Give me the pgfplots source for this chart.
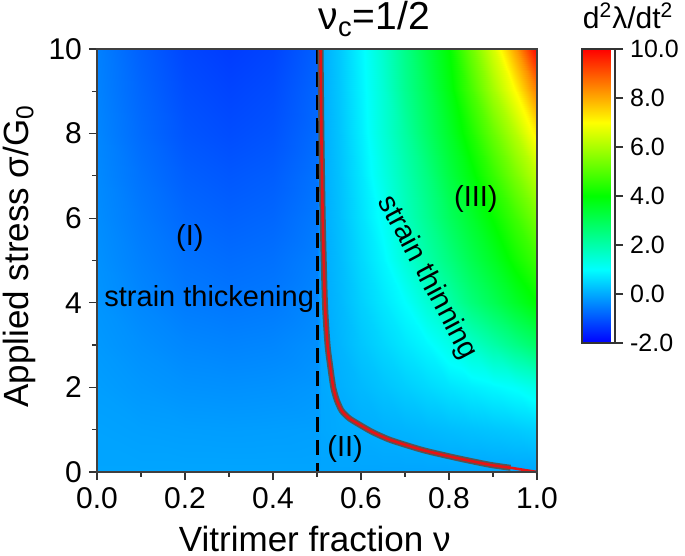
\documentclass[border=0pt]{standalone}
\usepackage{fontspec}
\setmainfont{Liberation Sans}
\usepackage{pgfplots}
\usepackage{pgfplotstable}
\pgfplotsset{compat=1.18}
\pgfplotsset{/pgf/number format/assume math mode=true}

\pgfplotstableread{
x y v
0 0 -0.06
0.1 0 -0.06
0.2 0 -0.06
0.3 0 -0.06
0.4 0 -0.06
0.5 0 -0.06
0.51 0 -0.06
0.55 0 -0.06
0.6 0 -0.06
0.65 0 -0.06
0.7 0 -0.06
0.75 0 -0.06
0.8 0 -0.06
0.85 0 -0.06
0.9 0 -0.06
0.95 0 -0.05
1.0 0 -0.04
0 1 -0.09
0.1 1 -0.12
0.2 1 -0.14
0.3 1 -0.15
0.4 1 -0.14
0.5 1 -0.12
0.51 1 -0.04
0.55 1 0.00
0.6 1 0.04
0.65 1 0.08
0.7 1 0.12
0.75 1 0.17
0.8 1 0.22
0.85 1 0.27
0.9 1 0.32
0.95 1 0.37
1.0 1 0.45
0 2 -0.14
0.1 2 -0.22
0.2 2 -0.28
0.3 2 -0.30
0.4 2 -0.28
0.5 2 -0.22
0.51 2 -0.03
0.55 2 0.06
0.6 2 0.18
0.65 2 0.30
0.7 2 0.42
0.75 2 0.55
0.8 2 0.68
0.85 2 0.80
0.9 2 0.92
0.95 2 1.05
1.0 2 1.30
0 3 -0.20
0.1 3 -0.31
0.2 3 -0.41
0.3 3 -0.45
0.4 3 -0.42
0.5 3 -0.31
0.51 3 -0.02
0.55 3 0.12
0.6 3 0.33
0.65 3 0.52
0.7 3 0.72
0.75 3 0.92
0.8 3 1.25
0.85 3 1.60
0.9 3 2.00
0.95 3 2.40
1.0 3 2.80
0 4 -0.25
0.1 4 -0.41
0.2 4 -0.55
0.3 4 -0.60
0.4 4 -0.56
0.5 4 -0.41
0.51 4 -0.01
0.55 4 0.16
0.6 4 0.45
0.65 4 0.72
0.7 4 1.00
0.75 4 1.50
0.8 4 2.00
0.85 4 2.55
0.9 4 3.00
0.95 4 3.50
1.0 4 4.00
0 5 -0.29
0.1 5 -0.49
0.2 5 -0.65
0.3 5 -0.72
0.4 5 -0.67
0.5 5 -0.49
0.51 5 0.00
0.55 5 0.20
0.6 5 0.55
0.65 5 0.90
0.7 5 1.45
0.75 5 2.00
0.8 5 2.50
0.85 5 3.05
0.9 5 3.55
0.95 5 4.15
1.0 5 4.70
0 6 -0.34
0.1 6 -0.57
0.2 6 -0.77
0.3 6 -0.85
0.4 6 -0.79
0.5 6 -0.57
0.51 6 0.00
0.55 6 0.24
0.6 6 0.65
0.65 6 1.10
0.7 6 1.75
0.75 6 2.30
0.8 6 2.90
0.85 6 3.45
0.9 6 4.05
0.95 6 4.70
1.0 6 5.40
0 7 -0.38
0.1 7 -0.65
0.2 7 -0.88
0.3 7 -0.97
0.4 7 -0.90
0.5 7 -0.65
0.51 7 0.01
0.55 7 0.27
0.6 7 0.72
0.65 7 1.30
0.7 7 1.90
0.75 7 2.50
0.8 7 3.20
0.85 7 3.85
0.9 7 4.60
0.95 7 5.40
1.0 7 6.20
0 8 -0.42
0.1 8 -0.74
0.2 8 -1.00
0.3 8 -1.10
0.4 8 -1.02
0.5 8 -0.74
0.51 8 0.01
0.55 8 0.30
0.6 8 0.80
0.65 8 1.45
0.7 8 2.10
0.75 8 2.80
0.8 8 3.50
0.85 8 4.30
0.9 8 5.20
0.95 8 6.10
1.0 8 7.20
0 9 -0.46
0.1 9 -0.80
0.2 9 -1.09
0.3 9 -1.20
0.4 9 -1.11
0.5 9 -0.80
0.51 9 0.02
0.55 9 0.33
0.6 9 0.85
0.65 9 1.50
0.7 9 2.30
0.75 9 3.00
0.8 9 3.80
0.85 9 4.80
0.9 9 5.90
0.95 9 7.00
1.0 9 8.50
0 10 -0.49
0.1 10 -0.87
0.2 10 -1.18
0.3 10 -1.30
0.4 10 -1.20
0.5 10 -0.87
0.51 10 0.02
0.55 10 0.35
0.6 10 0.90
0.65 10 1.60
0.7 10 2.40
0.75 10 3.20
0.8 10 4.00
0.85 10 5.25
0.9 10 6.50
0.95 10 8.10
1.0 10 10.0
}\heat

\pgfplotstableread{
x y
0.508 10
0.510 8
0.513 6
0.518 4
0.524 3
0.530 2.5
0.537 2
0.545 1.7
0.556 1.45
0.572 1.28
0.59 1.16
0.625 0.95
0.666 0.76
0.74 0.52
0.818 0.33
0.893 0.17
0.94 0.1
}\curvebg

\pgfplotstableread{
x y
0.508 10
0.510 8
0.513 6
0.518 4
0.524 3
0.530 2.5
0.537 2
0.545 1.7
0.556 1.45
0.572 1.28
0.59 1.16
0.625 0.95
0.666 0.76
0.74 0.52
0.818 0.33
0.893 0.17
0.94 0.1
0.97 0.05
1.0 0
}\curve

\begin{document}
\begin{tikzpicture}
\useasboundingbox (-48.5pt,-42pt) rectangle (294pt,236pt);
\begin{axis}[
  at={(0pt,0pt)}, anchor=south west,
  scale only axis, width=220pt, height=211.5pt,
  xmin=0, xmax=1, ymin=0, ymax=10,
  axis on top, clip=false,
  xtick={0,0.2,0.4,0.6,0.8,1.0}, minor xtick={0.1,0.3,0.5,0.7,0.9},
  ytick={0,2,4,6,8,10}, minor ytick={1,3,5,7,9},
  tick align=outside, tick pos=left,
  major tick length=4pt, minor tick length=2.3pt,
  every tick/.style={black!80, line width=0.6pt},
  axis line style={black!75, line width=0.8pt},
  xticklabel style={font=\fontsize{15}{18}\selectfont, /pgf/number format/.cd, fixed, fixed zerofill, precision=1},
  yticklabel style={font=\fontsize{15}{18}\selectfont},
  xlabel={Vitrimer fraction ν},
  ylabel={Applied stress σ/G\textsubscript{0}},
  label style={font=\fontsize{17.5}{20}\selectfont},
  xlabel style={at={(axis description cs:0.495,-0.187)}, anchor=base},
  ylabel style={at={(axis description cs:-0.177,0.51)}, anchor=center},
  colormap={rb}{rgb255=(0,0,255) rgb255=(0,255,255) rgb255=(0,255,0) rgb255=(255,255,0) rgb255=(255,0,0)},
  point meta min=-2, point meta max=10,
  colorbar,
  colorbar style={
    at={(parent axis.north east)}, anchor=north west, xshift=14pt,
    scale only axis, width=16.5pt, height=147pt,
    ytick={-2,0,2,4,6,8,10},
    yticklabel style={font=\fontsize{12.5}{15}\selectfont, /pgf/number format/.cd, fixed, fixed zerofill, precision=1},
    tick align=outside, major tick length=4pt,
    ytick pos=right, yticklabel pos=right,
    every tick/.style={black!80, line width=0.6pt},
    axis line style={black!80, line width=0.6pt},
  },
]
\addplot[surf, shader=interp, mesh/cols=17, point meta=explicit] table[x=x, y=y, meta=v]{\heat};
\addplot[black, line width=1.5pt, dash pattern=on 7.5pt off 4pt] coordinates {(0.5,10) (0.5,0)};
\addplot[color={rgb,255:red,85;green,85;blue,85}, line width=3pt, smooth, tension=0.4] table[x=x,y=y]{\curvebg};
\addplot[color={rgb,255:red,230;green,20;blue,20}, line width=1.3pt, smooth, tension=0.4] table[x=x,y=y]{\curve};
\node[font=\fontsize{14.5}{17}\selectfont] at (axis cs:0.211,5.53) {(I)};
\node[font=\fontsize{14.5}{17}\selectfont] at (axis cs:0.255,4.1) {strain thickening};
\node[font=\fontsize{14.5}{17}\selectfont] at (axis cs:0.564,0.55) {(II)};
\node[font=\fontsize{14.5}{17}\selectfont] at (axis cs:0.861,6.45) {(III)};
\node[font=\fontsize{14.5}{17}\selectfont, rotate=-62] at (axis cs:0.75,4.6) {strain thinning};
\node[font=\fontsize{19.5}{22}\selectfont] at (rel axis cs:0.63,1.071) {ν\textsubscript{c}=1/2};
\node[font=\fontsize{15}{17}\selectfont] at (rel axis cs:1.207,1.078) {d\textsuperscript{2}λ/dt\textsuperscript{2}};
\end{axis}
\end{tikzpicture}
\end{document}
